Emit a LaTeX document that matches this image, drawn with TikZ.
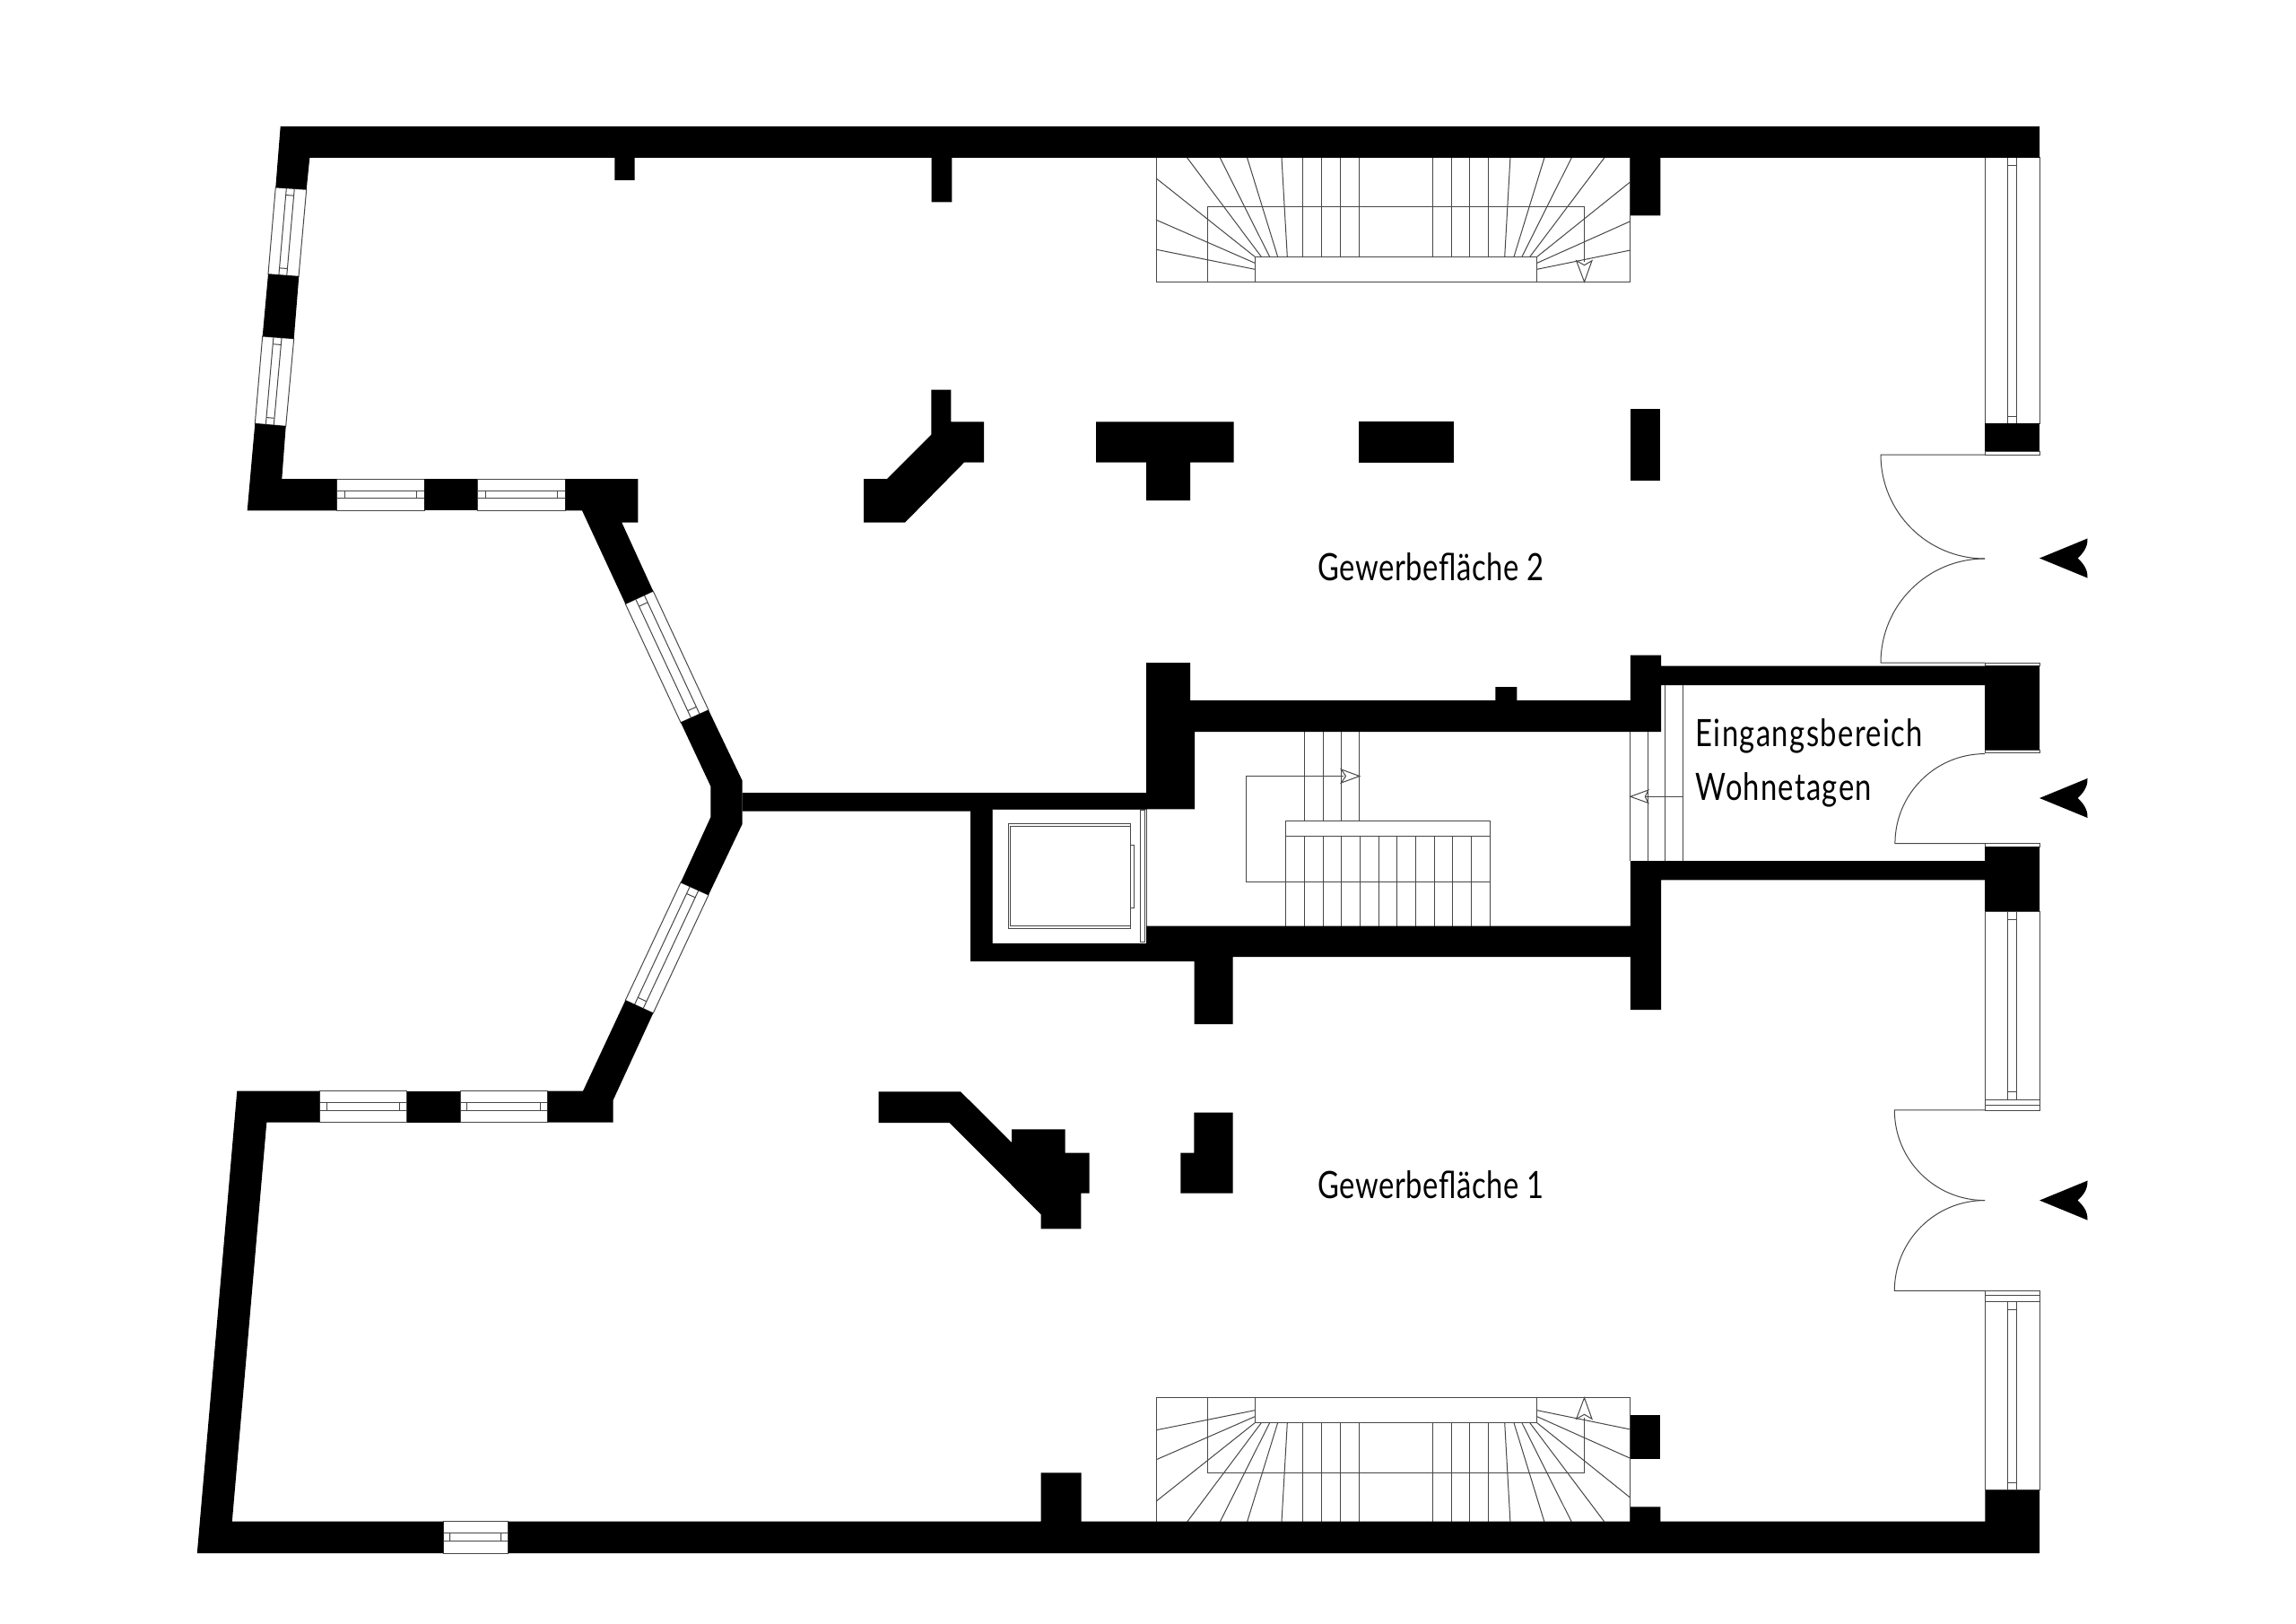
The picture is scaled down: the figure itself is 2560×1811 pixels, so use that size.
\documentclass[tikz,border=0pt]{standalone}
\usepackage{fontspec}
\setmainfont{Lato}[FakeStretch=0.78]
\usetikzlibrary{calc, positioning}
\tikzstyle{wall} = [fill=black]
\tikzstyle{fine} = [draw=black!72, line width=1pt]
\tikzstyle{room} = [inner sep=0pt, font=\fontsize{42}{50}\selectfont]
\tikzset{
	eingang/.pic={
		\fill[black] (0,0) -- (53.5,-22) .. controls (54,-12) and (48,-5) .. (42.5,0)
			.. controls (48,5) and (54,12) .. (53.5,22) -- cycle;
	},
	treppe/.pic={
		\draw[fine] (1289.3,176) rectangle (1817.9,314.3);
		\draw[fine] (1346.4,314.3) -- (1346.4,231) -- (1766.5,231) -- (1766.5,292);
		\draw[fine] (1399.1,286.3) rectangle (1713.8,314.3);
		\foreach \tx in {1452.7,1473.7,1494.6,1515.2,1597.3,1618.3,1638.8,1659.8}
			\draw[fine] (\tx,176) -- (\tx,286.3);
		\foreach \ta/\tb in {1323.7/1406.3,1360.3/1415.6,1390.6/1424.6,1429/1435.3,1683.9/1677.7,1721.9/1688,1752.2/1696.9,1788.8/1705.8}
			\draw[fine] (\ta,176) -- (\tb,286.3);
		\draw[fine] (1289.3,199) -- (1399.1,286.3);
		\draw[fine] (1289.3,245.3) -- (1399.1,293.3);
		\draw[fine] (1289.3,278.3) -- (1399.1,300.3);
		\draw[fine] (1817.9,202.7) -- (1713.8,286.3);
		\draw[fine] (1817.9,246.7) -- (1713.8,293.3);
		\draw[fine] (1817.9,279) -- (1713.8,300.3);
		\draw[fine, fill=white] (1766.5,314.3) -- (1757.6,290.7) -- (1766.5,295.7) -- (1775,290.7) -- cycle;
	}
}
% corners, two rail fractions, two tick fractions
\newcommand{\fenster}[8]{
	\draw[fine] #1 -- #2 -- #3 -- #4 -- cycle;
	\draw[fine] ($#1!#5!#2$) -- ($#4!#5!#3$);
	\draw[fine] ($#1!#6!#2$) -- ($#4!#6!#3$);
	\draw[fine] ($($#1!#5!#2$)!#7!($#4!#5!#3$)$) -- ($($#1!#6!#2$)!#7!($#4!#6!#3$)$);
	\draw[fine] ($($#1!#5!#2$)!#8!($#4!#5!#3$)$) -- ($($#1!#6!#2$)!#8!($#4!#6!#3$)$);
}

\begin{document}
\begin{tikzpicture}[x=1pt, y=-1pt]
	\useasboundingbox (0,0) rectangle (2560,1811);
	\fill[white] (0,0) rectangle (2560,1811);

	% stairs
	\pic {treppe};
	\pic[yscale=-1] at (0,1873) {treppe};

	% stairwell
	\foreach \tx in {1454,1475,1495.4,1515.8}
		\draw[fine] (\tx,816) -- (\tx,915.7);
	\draw[fine] (1433.7,915.7) rectangle (1661.2,932.7);
	\foreach \tk in {0,...,11}
		\draw[fine] ({1433.7+\tk*20.68},932.7) -- ({1433.7+\tk*20.68},1032.7);
	\draw[fine] (1498,865.5) -- (1389.8,865.5) -- (1389.8,983) -- (1661.2,983);
	\draw[fine, fill=white] (1515.8,865.5) -- (1495.4,858) -- (1500.5,865.5) -- (1495.4,873) -- cycle;
	\foreach \tx in {1817.9,1837.9}
		\draw[fine] (\tx,816) -- (\tx,960);
	\foreach \tx in {1856.8,1876.4}
		\draw[fine] (\tx,764) -- (\tx,960);
	\draw[fine] (1876.4,888.3) -- (1835,888.3);
	\draw[fine, fill=white] (1817.9,888.3) -- (1837.9,881) -- (1834.3,888.3) -- (1837.9,895.5) -- cycle;

	% lift
	\draw[fine] (1124,918.3) rectangle (1260.2,1035.3);
	\draw[fine] (1126,921.7) rectangle (1260.2,1032.7);
	\draw[fine] (1260.2,942) rectangle (1264.3,1012);
	\draw[fine] (1271.4,903) rectangle (1276.5,1050.7);
	\draw[fine] (1106,902.3) rectangle (1278,1052);

	% windows
	\fenster{(307.3,209)}{(341.7,211.3)}{(333,308.3)}{(299,305.7)}{.35}{.61}{.08}{.92}
	\fenster{(292.7,375)}{(327.7,377.7)}{(318.7,475.3)}{(284.3,472.3)}{.35}{.61}{.08}{.92}
	\fenster{(375.3,534)}{(375.3,569.3)}{(473.3,569.3)}{(473.3,534)}{.37}{.62}{.09}{.915}
	\fenster{(532.3,534)}{(532.3,569.3)}{(630.3,569.3)}{(630.3,534)}{.37}{.62}{.09}{.915}
	\fenster{(697.3,673.5)}{(728.3,659.2)}{(790,791.8)}{(759,805.7)}{.37}{.68}{.06}{.94}
	\fenster{(759,984)}{(790,998)}{(728.3,1129.8)}{(697.3,1115.5)}{.33}{.64}{.06}{.94}
	\fenster{(356.3,1216.7)}{(356.3,1251.7)}{(453.7,1251.7)}{(453.7,1216.7)}{.36}{.63}{.08}{.915}
	\fenster{(513,1216.7)}{(513,1251.7)}{(610.7,1251.7)}{(610.7,1216.7)}{.36}{.63}{.08}{.915}
	\fenster{(494.3,1696.7)}{(494.3,1732)}{(566.5,1732)}{(566.5,1696.7)}{.36}{.62}{.1}{.89}
	\fenster{(2213,176)}{(2274,176)}{(2274,472.3)}{(2213,472.3)}{.42}{.58}{.028}{.972}
	\fenster{(2213,1016)}{(2274,1016)}{(2274,1226.8)}{(2213,1226.8)}{.42}{.58}{.043}{.958}
	\fenster{(2213,1451.4)}{(2274,1451.4)}{(2274,1661.8)}{(2213,1661.8)}{.42}{.58}{.041}{.961}
	\draw[fine] (2213,1226.8) rectangle (2274,1238);
	\draw[fine] (2213,1232.9) -- (2274,1232.9);
	\draw[fine] (2213,1439.3) rectangle (2274,1451.4);
	\draw[fine] (2213,1444) -- (2274,1444);
	\draw[fine] (2213,503.3) rectangle (2274,507);
	\draw[fine] (2213,739) rectangle (2274,742.7);
	\draw[fine] (2213,836) rectangle (2274,839.3);
	\draw[fine] (2213,940.7) rectangle (2274,944.3);

	% doors
	\draw[fine] (2213,507) -- (2097,507) arc (180:270:116pt);
	\draw[fine] (2213,739) -- (2097,739) arc (180:90:116pt);
	\draw[fine] (2213,940.7) -- (2112.9,940.7) arc (180:90:100.1pt);
	\draw[fine] (2213,1237.9) -- (2112.3,1237.9) arc (180:270:100.7pt);
	\draw[fine] (2213,1439.3) -- (2112.3,1439.3) arc (180:90:100.7pt);

	% outer walls
	\fill[wall] (312.7,141) -- (2274,141) -- (2274,176) -- (1851.3,176) -- (1851.3,240.3) -- (1817.9,240.3) -- (1817.9,176) -- (1061.4,176) -- (1061.4,225.4) -- (1038.6,225.4) -- (1038.6,176) -- (707.7,176) -- (707.7,201) -- (685.3,201) -- (685.3,176) -- (345.3,176) -- (341.7,211.3) -- (307.3,209) -- cycle;
	\fill[wall] (2213,472.3) rectangle (2274,503.3);
	\fill[wall] (299,305.7) -- (333.3,308.3) -- (327.7,377.7) -- (292.7,375) -- cycle;
	\fill[wall] (284.3,472.3) -- (318.7,475.3) -- (314.3,534) -- (375.3,534) -- (375.3,569.3) -- (275.7,569.3) -- cycle;
	\fill[wall] (473.3,534) rectangle (532.3,569.3);
	\fill[wall] (630.3,534) -- (711.3,534) -- (711.3,582.7) -- (693.3,582.7) -- (728.3,659.2) -- (697.3,673.5) -- (649,569.3) -- (630.3,569.3) -- cycle;
	\fill[wall] (759,805.7) -- (790,791.8) -- (827.7,870.6) -- (827.7,918.8) -- (790,998) -- (759,984) -- (792.3,911.4) -- (792.3,876.7) -- cycle;
	\fill[wall] (697.3,1115.5) -- (728.3,1129.8) -- (683.7,1226.7) -- (683.7,1251.7) -- (610.7,1251.7) -- (610.7,1216.7) -- (650,1216.7) -- cycle;
	\fill[wall] (453.7,1216.7) rectangle (513,1251.7);
	\fill[wall] (264.3,1216.7) -- (356.3,1216.7) -- (356.3,1251.7) -- (297.3,1251.7) -- (258.8,1696.7) -- (494.3,1696.7) -- (494.3,1732) -- (219.8,1732) -- cycle;
	\fill[wall] (566.5,1696.7) -- (1160.5,1696.7) -- (1160.5,1642.3) -- (1205.5,1642.3) -- (1205.5,1696.7) -- (1817.9,1696.7) -- (1817.9,1680.3) -- (1851.3,1680.3) -- (1851.3,1696.7) -- (2213.3,1696.7) -- (2213.3,1661.8) -- (2274,1661.8) -- (2274,1732) -- (566.5,1732) -- cycle;
	\fill[wall] (1817.9,1577.7) rectangle (1851.3,1626.7);

	% core
	\fill[wall] (827.7,884.1) -- (1278,884.1) -- (1278,739) -- (1327,739) -- (1327,781) -- (1667.3,781) -- (1667.3,766) -- (1691.3,766) -- (1691.3,781) -- (1817.9,781) -- (1817.9,730.7) -- (1852,730.7) -- (1852,742.7) -- (2274,742.7) -- (2274,836) -- (2213,836) -- (2213,764) -- (1852,764) -- (1852,816) -- (1332,816) -- (1332,902.3) -- (1106,902.3) -- (1106,1052) -- (1278,1052) -- (1278,1032.7) -- (1817.9,1032.7) -- (1817.9,960) -- (2213,960) -- (2213,944.3) -- (2274,944.3) -- (2274,1016) -- (2213,1016) -- (2213,981.3) -- (1852,981.3) -- (1852,1126) -- (1817.9,1126) -- (1817.9,1067) -- (1374.5,1067) -- (1374.5,1142) -- (1331.6,1142) -- (1331.6,1072) -- (1082,1072) -- (1082,904.5) -- (827.7,904.5) -- cycle;

	% piers
	\fill[wall] (1038.3,434.7) -- (1060.3,434.7) -- (1060.3,470.3) -- (1097,470.3) -- (1097,515.7) -- (1075,515.7) -- (1009,582.7) -- (963,582.7) -- (963,534) -- (989,534) -- (1038.3,484.7) -- cycle;
	\fill[wall] (1222,470.3) -- (1375.7,470.3) -- (1375.7,515.7) -- (1327,515.7) -- (1327,558) -- (1278,558) -- (1278,515.7) -- (1222,515.7) -- cycle;
	\fill[wall] (1515,470.3) rectangle (1621,515.7);
	\fill[wall] (1817.9,455.6) rectangle (1851.3,535.6);
	\fill[wall] (979.7,1217.3) -- (1071,1217.3) -- (1128,1274) -- (1128,1259.3) -- (1187.7,1259.3) -- (1187.7,1285.7) -- (1214.7,1285.7) -- (1214.7,1330.7) -- (1205.3,1330.7) -- (1205.3,1370.3) -- (1160.7,1370.3) -- (1160.7,1354.3) -- (1058.7,1252) -- (979.7,1252) -- cycle;
	\fill[wall] (1331.3,1240.7) -- (1374.7,1240.7) -- (1374.7,1330.7) -- (1316.3,1330.7) -- (1316.3,1285.7) -- (1331.3,1285.7) -- cycle;

	% entrances
	\pic at (2274,622.5) {eingang};
	\pic at (2274,890) {eingang};
	\pic at (2274,1338.6) {eingang};

	% labels
	\node[room, anchor=base west] (gewerbe2) at (1469,647) {\addfontfeature{LetterSpace=1.4}Gewerbefläche 2};
	\node[room, anchor=base west] (gewerbe1) at (1469,1336) {\addfontfeature{LetterSpace=1.4}Gewerbefläche 1};
	\node[room, anchor=base west] (eingang) at (1890.5,832.5) {\addfontfeature{LetterSpace=3.3}Eingangsbereich};
	\node[room, anchor=base west] (wohnen) at (1890.5,892.5) {\addfontfeature{LetterSpace=3}Wohnetagen};
\end{tikzpicture}
\end{document}
